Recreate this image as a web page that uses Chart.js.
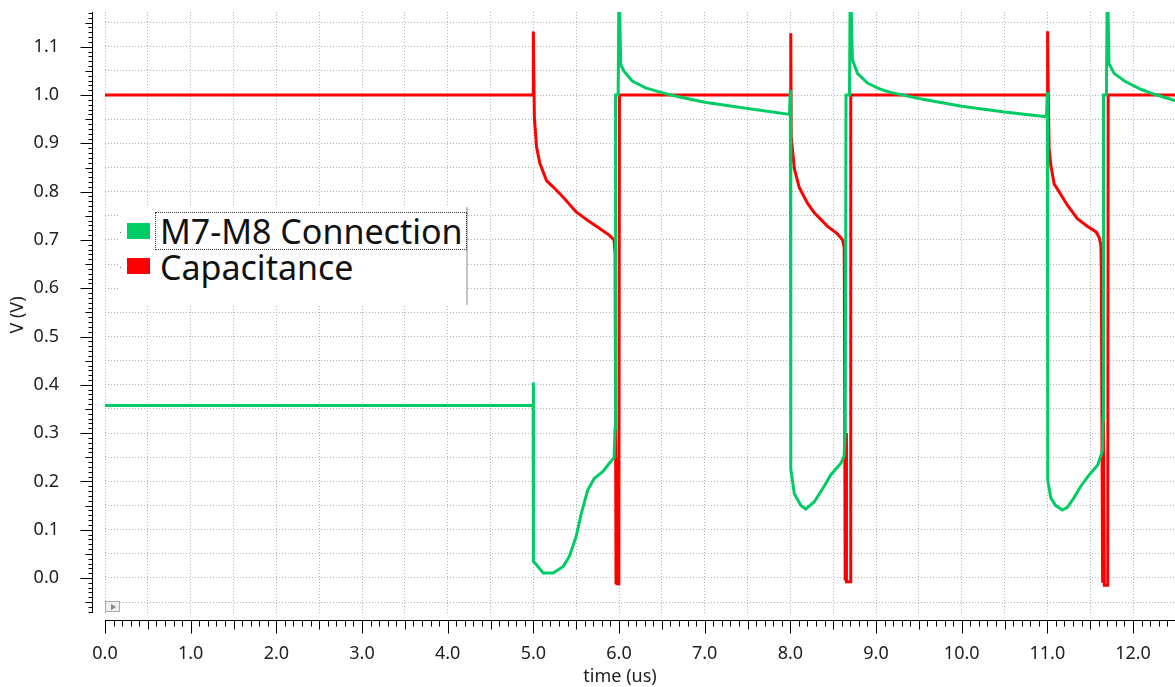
<!DOCTYPE html>
<html>
<head>
<meta charset="utf-8">
<title>M7-M8 Connection / Capacitance</title>
<script src="https://cdn.jsdelivr.net/npm/chart.js@4.4.1/dist/chart.umd.min.js"></script>
<style>
  html, body { margin: 0; padding: 0; background: #fff; }
  #wrap { position: relative; width: 1175px; height: 687px; font-family: 'Noto Sans', sans-serif; color: #111; }
  #plot { position: absolute; left: 0; top: 0; }
  #legend { position: absolute; left: 118px; top: 207px; width: 348px; height: 98px; background: #fff; border-right: 2px solid #c4c4c4; }
  .swatch { position: absolute; width: 23px; height: 16px; }
  .dot { position: absolute; width: 1px; height: 1px; background: #777; }
  .entry { position: absolute; font-size: 34px; line-height: 36px; white-space: nowrap; }
  .focus { border: 1px dotted #333; box-sizing: border-box; }
  #corner { position: absolute; left: 105px; top: 601px; width: 15px; height: 11px; border: 1px solid #aaa; background: #eee; box-sizing: border-box; }
  #corner:after { content: ''; position: absolute; left: 5px; top: 2px; border-left: 5px solid #888; border-top: 3px solid transparent; border-bottom: 3px solid transparent; }
</style>
</head>
<body>
<div id="wrap">
  <canvas id="plot" width="1175" height="687"></canvas>
  <div id="legend"></div>
  <div id="corner"></div>
</div>
<script>
"use strict";

// series names / colours
var seriesNames = ["M7-M8 Connection", "Capacitance"];
var seriesColors = ["#00cc66", "#ff0000"];

// M7-M8 Connection (time in us, volts)
var greenTime = [0, 4.998, 5.0, 5.0, 5.004, 5.02, 5.115, 5.23, 5.35, 5.42, 5.5, 5.56, 5.635, 5.71, 5.81, 5.885, 5.942, 5.954, 5.96, 5.99, 6.0, 6.02, 6.06, 6.154, 6.31, 6.46, 6.6, 7.0, 7.5, 7.99,
  8.0, 8.005, 8.047, 8.124, 8.18, 8.28, 8.395, 8.473, 8.59, 8.628, 8.64, 8.65, 8.69, 8.7, 8.725, 8.783, 8.9, 9.054, 9.17, 9.5, 10.0, 10.5, 10.99,
  11.0, 11.005, 11.04, 11.098, 11.176, 11.234, 11.31, 11.39, 11.49, 11.586, 11.625, 11.645, 11.65, 11.656, 11.69, 11.7, 11.72, 11.78, 11.9, 12.09, 12.25, 12.5];
var greenVolt = [0.357, 0.357, 0.405, 0.216, 0.034, 0.031, 0.0103, 0.0103, 0.024, 0.0446, 0.086, 0.134, 0.182, 0.206, 0.22, 0.237, 0.249, 0.309, 1.0, 1.0, 1.25, 1.063, 1.049, 1.029, 1.015, 1.007, 1.0, 0.985, 0.972, 0.96,
  1.01, 0.226, 0.174, 0.15, 0.1425, 0.158, 0.19, 0.214, 0.2375, 0.253, 0.3, 1.0, 1.0, 1.25, 1.073, 1.045, 1.025, 1.012, 1.0055, 0.993, 0.977, 0.965, 0.955,
  1.006, 0.202, 0.166, 0.15, 0.141, 0.1465, 0.166, 0.19, 0.214, 0.2336, 0.253, 0.265, 0.33, 1.0, 1.0, 1.25, 1.065, 1.045, 1.029, 1.012, 1.0016, 0.988];

// Capacitance (time in us, volts)
var redTime = [0, 5.0, 5.0, 5.012, 5.038, 5.077, 5.154, 5.23, 5.346, 5.5, 5.654, 5.77, 5.885, 5.942, 5.954, 5.955, 5.965, 5.972, 5.978, 5.998, 6.005,
  8.0, 8.005, 8.01, 8.047, 8.105, 8.2, 8.28, 8.434, 8.55, 8.61, 8.628, 8.63, 8.64, 8.65, 8.655, 8.7, 8.705,
  11.0, 11.003, 11.01, 11.02, 11.04, 11.08, 11.137, 11.234, 11.35, 11.47, 11.57, 11.605, 11.625, 11.63, 11.645, 11.655, 11.665, 11.705, 11.71, 12.5];
var redVolt = [1.0, 1.0, 1.1315, 0.953, 0.892, 0.858, 0.823, 0.81, 0.789, 0.758, 0.738, 0.724, 0.71, 0.7, 0.673, 0.637, -0.01, 0.25, -0.012, -0.012, 1.0,
  1.0, 1.128, 0.914, 0.847, 0.808, 0.776, 0.756, 0.728, 0.7126, 0.7, 0.685, 0.645, -0.005, 0.3, -0.008, -0.008, 1.0,
  1.0, 1.132, 1.013, 0.89, 0.855, 0.8155, 0.8, 0.772, 0.744, 0.728, 0.7166, 0.705, 0.689, 0.641, -0.01, 0.33, -0.015, -0.015, 1.0, 1.0];

// axis ranges
var xRange = [0, 12.49];
var yRange = [-0.0725, 1.172];

function toPoints(ts, vs) {
  return ts.map(function (t, i) { return { x: t, y: vs[i] }; });
}

function onStep(v, step) {
  var r = v / step;
  return Math.abs(r - Math.round(r)) < 1e-6;
}

// axis lines + minor ticks, offset from the plot like the simulator viewer does
var axesPlugin = {
  id: "axesPlugin",
  afterDraw: function (chart) {
    var ctx = chart.ctx;
    var area = chart.chartArea;
    var xs = chart.scales.x;
    var ys = chart.scales.y;
    var ax = area.left - 13 + 0.5;
    var ay = area.bottom + 7 + 0.5;
    var i, p, len;

    ctx.save();
    ctx.strokeStyle = "#000";
    ctx.lineWidth = 1;
    ctx.beginPath();
    ctx.moveTo(ax, area.top);
    ctx.lineTo(ax, area.bottom);
    for (i = Math.ceil(ys.min * 100); i <= Math.floor(ys.max * 100); i++) {
      p = Math.round(ys.getPixelForValue(i / 100)) + 0.5;
      len = i % 10 === 0 ? 12 : (i % 5 === 0 ? 7 : 4);
      ctx.moveTo(ax - len, p);
      ctx.lineTo(ax, p);
    }
    ctx.moveTo(area.left, ay);
    ctx.lineTo(area.right, ay);
    for (i = Math.ceil(xs.min * 10); i <= Math.floor(xs.max * 10); i++) {
      p = Math.round(xs.getPixelForValue(i / 10)) + 0.5;
      len = i % 10 === 0 ? 13 : (i % 5 === 0 ? 9 : 6);
      ctx.moveTo(p, ay);
      ctx.lineTo(p, ay + len);
    }
    ctx.stroke();

    ctx.fillStyle = "#222";
    ctx.font = "18px 'Noto Sans', sans-serif";
    ctx.textAlign = "center";
    ctx.textBaseline = "middle";
    ctx.fillText("time (us)", 620, 677);
    ctx.translate(18, 315);
    ctx.rotate(-Math.PI / 2);
    ctx.fillText("V (V)", 0, 0);
    ctx.restore();
  },
};

Chart.defaults.font.family = "'Noto Sans', sans-serif";

var chart = new Chart(document.getElementById("plot").getContext("2d"), {
  type: "line",
  data: {
    datasets: [
      { label: seriesNames[0], data: toPoints(greenTime, greenVolt), borderColor: seriesColors[0], backgroundColor: seriesColors[0], borderWidth: 3, pointRadius: 0, tension: 0, fill: false },
      { label: seriesNames[1], data: toPoints(redTime, redVolt), borderColor: seriesColors[1], backgroundColor: seriesColors[1], borderWidth: 3, pointRadius: 0, tension: 0, fill: false },
    ],
  },
  options: {
    responsive: false,
    animation: false,
    devicePixelRatio: 1,
    layout: { padding: { top: 12, right: 0, bottom: 0, left: 0 } },
    plugins: { legend: { display: false }, tooltip: { enabled: false } },
    scales: {
      x: {
        type: "linear",
        min: xRange[0],
        max: xRange[1],
        afterFit: function (scale) {
          scale.height = 74;
          scale.paddingLeft = 0;
          scale.paddingRight = 0;
        },
        border: { display: false, dash: [1, 2] },
        grid: {
          drawTicks: false,
          color: function (c) { return c.tick && onStep(c.tick.value, 0.5) ? "#b4b4b4" : "rgba(0,0,0,0)"; },
        },
        ticks: {
          stepSize: 0.5,
          includeBounds: false,
          autoSkip: false,
          maxRotation: 0,
          padding: 30,
          color: "#222",
          font: { size: 18 },
          callback: function (v) { return onStep(v, 1) ? v.toFixed(1) : ""; },
        },
      },
      y: {
        type: "linear",
        min: yRange[0],
        max: yRange[1],
        afterFit: function (scale) {
          scale.width = 105;
          scale.paddingTop = 0;
          scale.paddingBottom = 0;
        },
        border: { display: false, dash: [1, 2] },
        grid: {
          drawTicks: false,
          color: function (c) { return c.tick && onStep(c.tick.value, 0.05) ? "#b4b4b4" : "rgba(0,0,0,0)"; },
        },
        ticks: {
          stepSize: 0.05,
          includeBounds: false,
          autoSkip: false,
          padding: 46,
          color: "#222",
          font: { size: 18 },
          callback: function (v) { return onStep(v, 0.1) ? v.toFixed(1) : ""; },
        },
      },
    },
  },
  plugins: [axesPlugin],
});

// legend panel drawn over the plot, top-left
(function buildLegend() {
  var legend = document.getElementById("legend");
  var rows = [
    { swatchTop: 16, textTop: 5 },
    { swatchTop: 51, textTop: 42 },
  ];
  seriesNames.forEach(function (name, i) {
    var dot = document.createElement("div");
    dot.className = "dot";
    dot.style.left = "2px";
    dot.style.top = (rows[i].swatchTop + 9) + "px";
    legend.appendChild(dot);

    var sw = document.createElement("div");
    sw.className = "swatch";
    sw.style.left = "9px";
    sw.style.top = rows[i].swatchTop + "px";
    sw.style.background = seriesColors[i];
    legend.appendChild(sw);

    var txt = document.createElement("div");
    txt.className = "entry" + (i === 0 ? " focus" : "");
    txt.textContent = name;
    txt.style.left = i === 0 ? "37px" : "42px";
    txt.style.top = rows[i].textTop + "px";
    if (i === 0) {
      txt.style.width = "312px";
      txt.style.height = "38px";
      txt.style.paddingLeft = "4px";
    }
    legend.appendChild(txt);
  });
})();
</script>
</body>
</html>
